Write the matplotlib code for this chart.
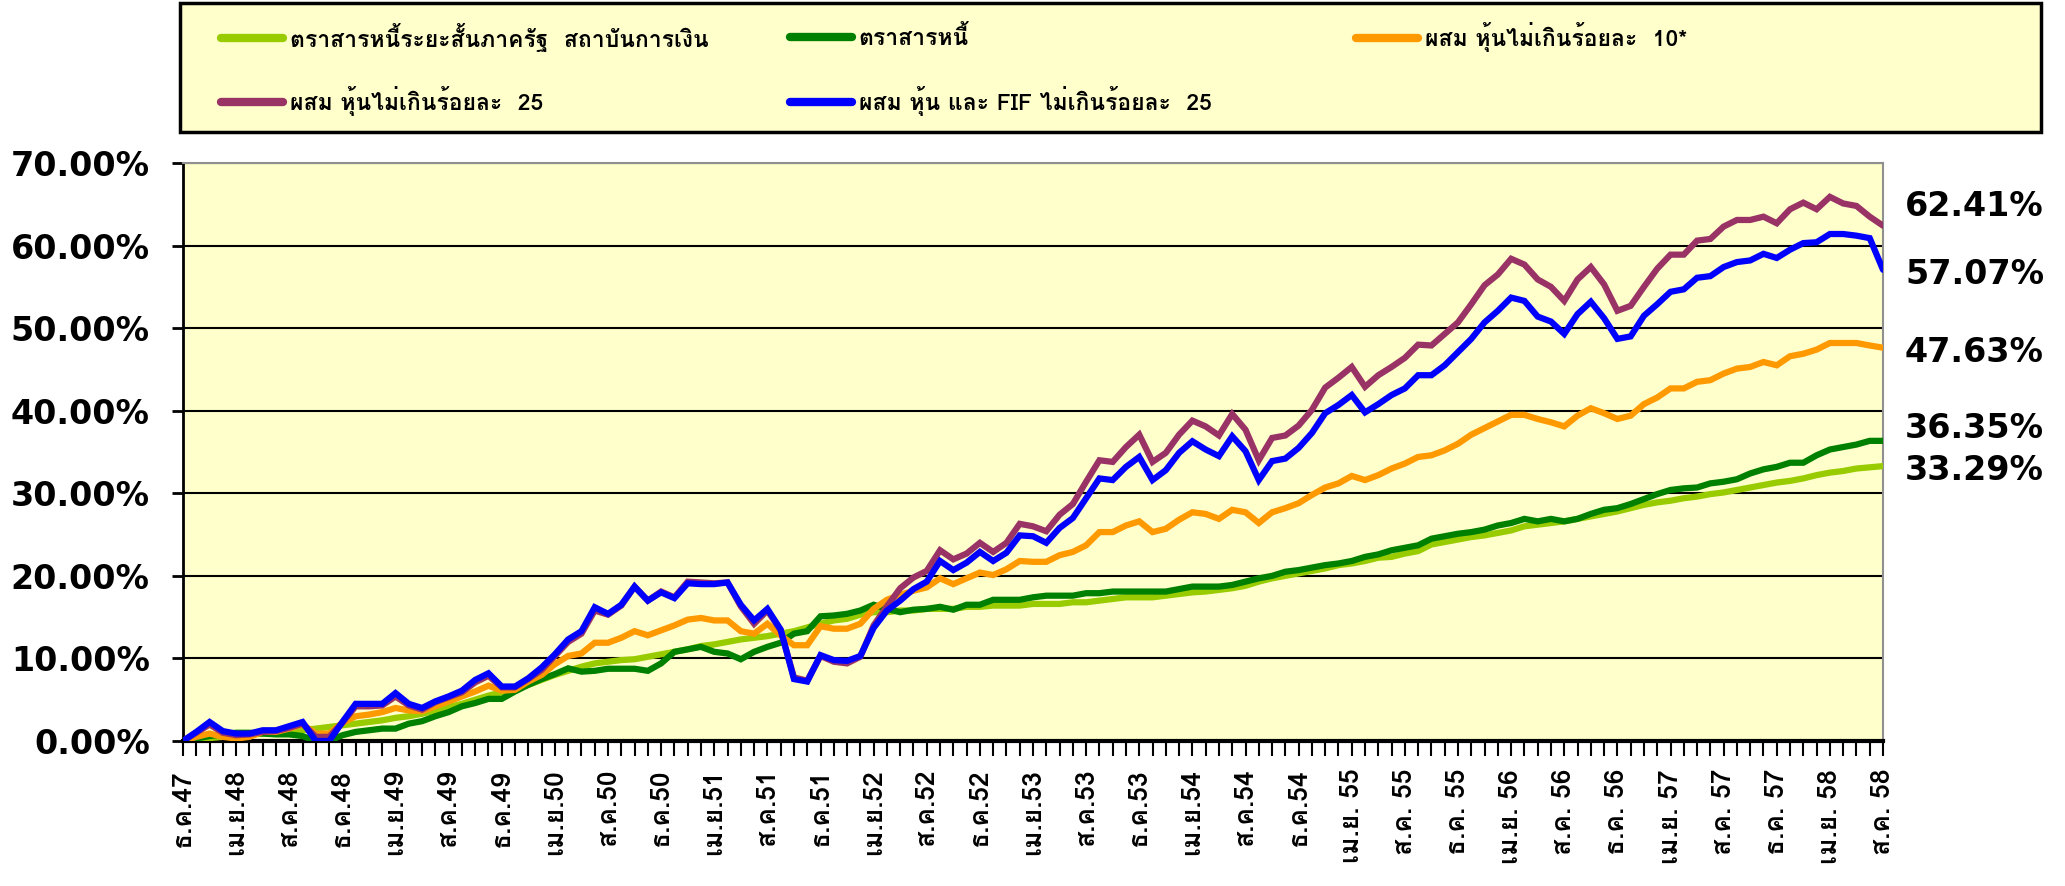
import numpy as np
import matplotlib
matplotlib.use("Agg")
import matplotlib.pyplot as plt
from matplotlib import font_manager
from matplotlib.ft2font import FT2Font
from matplotlib.lines import Line2D
from matplotlib.patches import Rectangle
import matplotlib.transforms as mtransforms

# ---------------- data ----------------
series_names = [
    "ตราสารหนี้ระยะสั้นภาครัฐ  สถาบันการเงิน",
    "ตราสารหนี้",
    "ผสม หุ้นไม่เกินร้อยละ  10*",
    "ผสม หุ้นไม่เกินร้อยละ  25",
    "ผสม หุ้น และ FIF ไม่เกินร้อยละ  25",
]

tick_labels = [
    "ธ.ค.47", "เม.ย.48", "ส.ค.48", "ธ.ค.48", "เม.ย.49", "ส.ค.49", "ธ.ค.49",
    "เม.ย.50", "ส.ค.50", "ธ.ค.50", "เม.ย.51", "ส.ค.51", "ธ.ค.51", "เม.ย.52",
    "ส.ค.52", "ธ.ค.52", "เม.ย.53", "ส.ค.53", "ธ.ค.53", "เม.ย.54", "ส.ค.54",
    "ธ.ค.54", "เม.ย. 55", "ส.ค. 55", "ธ.ค. 55", "เม.ย. 56", "ส.ค. 56",
    "ธ.ค. 56", "เม.ย. 57", "ส.ค. 57", "ธ.ค. 57", "เม.ย. 58", "ส.ค. 58",
]

short_govt = [
    0, 0.2, 0.35, 0.5, 0.6, 0.75, 0.9, 1.0, 1.15, 1.3,
    1.5, 1.7, 1.9, 2.1, 2.3, 2.5, 2.8, 3.0, 3.3, 3.7,
    4.1, 4.5, 5.0, 5.5, 5.9, 6.2, 6.8, 7.4, 8.0, 8.5,
    9.0, 9.4,
    9.6, 9.8, 9.9, 10.2, 10.5, 10.8, 11.1, 11.5, 11.7, 12.0,
    12.3, 12.5, 12.7, 13.0, 13.3, 13.75, 14.2, 14.6, 14.8, 15.3,
    15.6, 15.6, 15.8, 15.8, 16.0, 16.0, 16.0, 16.25, 16.25, 16.4,
    16.4, 16.4,
    16.6, 16.6, 16.6, 16.8, 16.8, 17.0, 17.2, 17.4, 17.4, 17.4,
    17.6, 17.8, 18.0, 18.1, 18.3, 18.5, 18.8, 19.3, 19.7, 20.0,
    20.3, 20.6, 20.9, 21.3, 21.5, 21.8, 22.2, 22.3, 22.7, 23.0,
    23.8,
    24.1, 24.4, 24.7, 24.9, 25.2, 25.5, 26.0, 26.2, 26.4, 26.6,
    26.9, 27.2, 27.5, 27.8, 28.2, 28.6, 28.9, 29.1, 29.4, 29.6,
    29.9, 30.1, 30.4, 30.7, 31.0, 31.3, 31.5, 31.8, 32.2, 32.5,
    32.7, 33.0, 33.15, 33.29,
]

bond = [
    0, 0.3, 0.6, 0.8, 1.0, 1.0, 0.9, 0.8, 0.8, 0.6,
    0.0, 0.0, 0.7, 1.1, 1.3, 1.5, 1.5, 2.1, 2.4, 3.0,
    3.5, 4.2, 4.6, 5.1, 5.1, 6.0, 6.8, 7.5, 8.1, 8.8,
    8.4, 8.5,
    8.75, 8.75, 8.75, 8.5, 9.4, 10.8, 11.1, 11.4, 10.8, 10.6,
    9.9, 10.8, 11.4, 11.9, 13.0, 13.3, 15.1, 15.2, 15.4, 15.8,
    16.5, 16.0, 15.6, 15.9, 16.0, 16.25, 15.9, 16.5, 16.5, 17.1,
    17.1, 17.1,
    17.4, 17.6, 17.6, 17.6, 17.9, 17.9, 18.1, 18.1, 18.1, 18.1,
    18.1, 18.4, 18.7, 18.7, 18.7, 18.9, 19.3, 19.7, 20.0, 20.5,
    20.7, 21.0, 21.3, 21.5, 21.8, 22.3, 22.6, 23.1, 23.4, 23.7,
    24.5,
    24.8, 25.1, 25.3, 25.6, 26.1, 26.4, 26.9, 26.6, 26.9, 26.6,
    26.9, 27.5, 28.0, 28.2, 28.7, 29.3, 29.9, 30.4, 30.6, 30.7,
    31.2, 31.4, 31.7, 32.4, 32.9, 33.2, 33.7, 33.7, 34.6, 35.3,
    35.6, 35.9, 36.35, 36.35,
]

mixed10 = [
    0, 0.5, 0.9, 0.5, 0.3, 0.5, 1.1, 1.1, 1.5, 2.0,
    0.9, 0.9, 2.2, 3.0, 3.2, 3.5, 4.0, 3.7, 3.6, 4.2,
    4.8, 5.4, 6.0, 6.7, 6.1, 6.2, 7.2, 8.0, 9.3, 10.3,
    10.6, 11.9,
    11.9, 12.5, 13.3, 12.8, 13.4, 14.0, 14.7, 14.9, 14.6, 14.6,
    13.3, 13.0, 14.2, 12.8, 11.6, 11.6, 13.9, 13.6, 13.6, 14.2,
    16.0, 17.1, 17.7, 18.2, 18.6, 19.7, 19.0, 19.7, 20.4, 20.1,
    20.8, 21.8,
    21.7, 21.7, 22.5, 22.9, 23.7, 25.3, 25.3, 26.1, 26.6, 25.3,
    25.7, 26.8, 27.7, 27.5, 26.9, 28.0, 27.7, 26.4, 27.7, 28.2,
    28.8, 29.8, 30.7, 31.2, 32.1, 31.6, 32.2, 33.0, 33.6, 34.4,
    34.6,
    35.2, 36.0, 37.1, 37.9, 38.7, 39.5, 39.5, 39.0, 38.6, 38.1,
    39.4, 40.3, 39.7, 39.0, 39.4, 40.8, 41.6, 42.7, 42.7, 43.5,
    43.7, 44.5, 45.1, 45.3, 45.9, 45.5, 46.6, 46.9, 47.4, 48.2,
    48.2, 48.2, 47.9, 47.63,
]

mixed25 = [
    0, 1.0, 2.0, 1.0, 0.7, 0.8, 1.1, 1.2, 1.6, 2.1,
    0.5, 0.5, 2.2, 4.2, 4.2, 4.3, 5.4, 4.3, 3.8, 4.7,
    5.3, 5.9, 7.1, 7.9, 6.5, 6.5, 7.5, 8.6, 10.3, 12.0,
    13.0, 15.8,
    15.3, 16.4, 18.7, 17.0, 18.1, 17.4, 19.3, 19.2, 19.1, 19.2,
    16.3, 14.2, 15.8, 13.4, 7.7, 7.3, 10.3, 9.6, 9.4, 10.2,
    14.0, 16.3, 18.5, 19.8, 20.6, 23.1, 22.0, 22.7, 24.0, 22.9,
    24.0, 26.3,
    26.0, 25.4, 27.4, 28.7, 31.4, 34.0, 33.8, 35.6, 37.1, 33.8,
    34.9, 37.1, 38.8, 38.1, 37.0, 39.6, 37.7, 34.0, 36.7, 37.0,
    38.2, 40.1, 42.8, 44.0, 45.3, 42.9, 44.3, 45.3, 46.4, 48.0,
    47.9,
    49.3, 50.7, 52.9, 55.2, 56.5, 58.4, 57.7, 55.9, 55.0, 53.3,
    55.9, 57.4, 55.3, 52.1, 52.7, 55.0, 57.2, 58.9, 58.9, 60.6,
    60.8, 62.3, 63.1, 63.1, 63.5, 62.7, 64.4, 65.2, 64.4, 65.9,
    65.1, 64.8, 63.5, 62.41,
]

mixed25_fif = [
    0, 1.1, 2.3, 1.2, 0.9, 0.9, 1.3, 1.3, 1.8, 2.3,
    0.0, 0.0, 2.3, 4.5, 4.5, 4.5, 5.8, 4.5, 4.0, 4.8,
    5.4, 6.1, 7.4, 8.2, 6.6, 6.6, 7.6, 8.9, 10.5, 12.3,
    13.3, 16.2,
    15.4, 16.5, 18.7, 17.0, 18.0, 17.3, 19.1, 19.0, 19.0, 19.2,
    16.5, 14.6, 16.0, 13.5, 7.5, 7.2, 10.4, 9.8, 9.7, 10.3,
    13.7, 15.8, 17.0, 18.4, 19.3, 21.8, 20.7, 21.6, 22.9, 21.8,
    22.8, 24.9,
    24.8, 24.0, 25.8, 27.0, 29.4, 31.8, 31.6, 33.2, 34.4, 31.6,
    32.8, 34.9, 36.3, 35.3, 34.5, 36.9, 35.1, 31.6, 33.9, 34.2,
    35.5, 37.3, 39.7, 40.7, 41.9, 39.8, 40.8, 41.9, 42.7, 44.3,
    44.3,
    45.5, 47.1, 48.7, 50.7, 52.1, 53.7, 53.3, 51.4, 50.8, 49.3,
    51.7, 53.2, 51.2, 48.7, 49.0, 51.5, 52.9, 54.4, 54.7, 56.1,
    56.3, 57.4, 58.0, 58.2, 59.0, 58.5, 59.5, 60.3, 60.4, 61.4,
    61.4, 61.2, 60.9, 57.07,
]

end_labels = ["62.41%", "57.07%", "47.63%", "36.35%", "33.29%"]
end_label_pos = [64.7, 56.5, 47.1, 37.9, 32.8]

colors = ["#99CC00", "#008000", "#FF9900", "#993366", "#0000FF"]

# ---------------- fonts ----------------
preferred = ["Tahoma", "Loma", "IBM Plex Sans Thai Looped", "Garuda",
             "Tlwg Typo", "Sarabun", "Noto Sans Thai"]
thai_fams = {}
for fe in font_manager.fontManager.ttflist:
    try:
        cm = FT2Font(fe.fname).get_charmap()
    except Exception:
        continue
    if 0x0E01 in cm and 0x0E49 in cm:
        w = fe.weight
        if isinstance(w, str):
            w = 700 if "bold" in w.lower() else 400
        thai_fams.setdefault(fe.name, set()).add(w)
thai_font = None
for p in preferred:
    if p in thai_fams and max(thai_fams[p]) >= 600:
        thai_font = p
        break
if thai_font is None:
    for p in preferred:
        if p in thai_fams:
            thai_font = p
            break
if thai_font is None and thai_fams:
    thai_font = sorted(thai_fams.keys())[0]
thai_family = ([thai_font] if thai_font else []) + ["DejaVu Sans"]

plt.rcParams["font.family"] = thai_family

# ---------------- figure ----------------
W, H = 2065, 886
fig = plt.figure(figsize=(W / 100, H / 100), dpi=100)
fig.patch.set_facecolor("white")

ax = fig.add_axes([183 / W, 1 - 741 / H, 1700 / W, (741 - 163) / H])
ax.set_facecolor("#FFFFCC")

all_series = [short_govt, bond, mixed10, mixed25, mixed25_fif]
for vals, c, name in zip(all_series, colors, series_names):
    x = np.arange(len(vals))
    ax.plot(x, vals, color=c, lw=4.5, solid_joinstyle="miter",
            solid_capstyle="round", label=name, zorder=3)

n_months = len(short_govt)
ax.set_xlim(0, n_months - 1)
ax.set_ylim(0, 70)

yt = np.arange(0, 71, 10)
ax.set_yticks(yt)
ax.set_yticklabels([f"{v:.2f}%" for v in yt], fontsize=24, fontweight="bold",
                   family=["DejaVu Sans"])
ax.yaxis.grid(True, color="black", lw=1.5, zorder=1)
ax.set_axisbelow(True)

xt = np.arange(n_months)
ax.set_xticks(xt)
labs = []
k = 0
for i in xt:
    if i % 4 == 0 and k < len(tick_labels):
        labs.append(tick_labels[k])
        k += 1
    else:
        labs.append("")
ax.set_xticklabels(labs, rotation=90, fontsize=19, fontweight="bold",
                   family=thai_family, va="top", ha="center")
ax.tick_params(axis="x", direction="out", length=11, width=1.5, pad=9, colors="black")
ax.tick_params(axis="y", direction="out", length=8, width=2, pad=16, colors="black")

ax.spines["left"].set_color("black")
ax.spines["left"].set_linewidth(2)
ax.spines["bottom"].set_color("black")
ax.spines["bottom"].set_linewidth(3)
for s in ["top", "right"]:
    ax.spines[s].set_color("#909090")
    ax.spines[s].set_linewidth(1.5)

# end-value labels
blend = mtransforms.blended_transform_factory(ax.transAxes, ax.transData)
for txt, yp in zip(end_labels, end_label_pos):
    ax.text(1.0 + 22 / 1700, yp, txt, transform=blend, ha="left", va="center",
            fontsize=24, fontweight="bold", family=["DejaVu Sans"], clip_on=False)

# legend box
box = Rectangle((180 / W, 1 - 132 / H), (2041 - 180) / W, (132 - 3) / H,
                transform=fig.transFigure, facecolor="#FFFFCC", edgecolor="black",
                lw=2.5, zorder=0)
fig.patches.append(box)

handles = ax.get_lines()
leg_pos = [(221, 37), (790, 37), (1356, 37), (221, 101), (790, 101)]
for h, name, (px, py) in zip(handles, series_names, leg_pos):
    proxy = Line2D([], [], color=h.get_color(), lw=6, solid_capstyle="round")
    fig.legend([proxy], [name], loc="center left",
               bbox_to_anchor=(px / W, 1 - py / H), frameon=False,
               borderpad=0, borderaxespad=0, handlelength=2.7,
               handletextpad=0.3,
               prop=dict(family=thai_family, size=16.5, weight="bold"))

fig.savefig("out.png", dpi=100, facecolor="white")
